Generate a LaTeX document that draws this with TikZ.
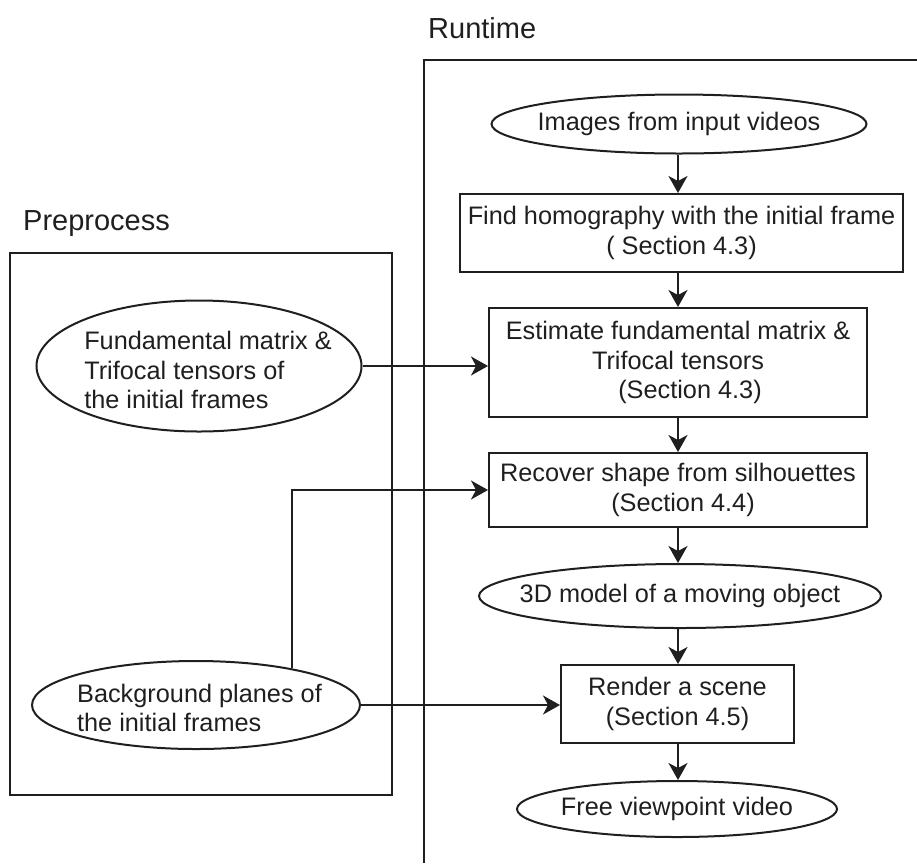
\documentclass[tikz,border=0pt]{standalone}
\usepackage{fontspec}
\setmainfont{Liberation Sans}
\usetikzlibrary{arrows.meta,shapes.geometric,calc}

\tikzset{
  base/.style={draw=black!88, line width=2pt, inner sep=0pt, align=center,
    font=\fontsize{25.3}{29.5}\selectfont, text=black!88},
  procbox/.style={base, rectangle},
  oval/.style={base, ellipse},
  plain/.style={inner sep=0pt, font=\fontsize{25.3}{29.5}\selectfont, text=black!88},
  heading/.style={inner sep=0pt, anchor=base west, font=\fontsize{29}{34}\selectfont, text=black!88},
  frame/.style={draw=black!88, line width=2pt},
  arr/.style={draw=black!88, line width=2pt,
    -{Stealth[length=17pt, width=19pt, inset=5pt]}}
}

\begin{document}
\begin{tikzpicture}[x=1pt, y=-1pt]
  \useasboundingbox (0,0) rectangle (917,863);

  % group frames and their titles
  \draw[frame] (10,253) rectangle (392,795);
  \draw[frame] (424,863) -- (424,60) -- (917,60);
  \node[heading] (pretitle) at (23,230) {Preprocess};
  \node[heading] (runtitle) at (428,38) {Runtime};

  % runtime chain (ellipse outlines sized by hand, labels set on top)
  \node[oval, minimum width=375pt, minimum height=59pt] (imgs) at (679,124) {};
  \node[plain] (imgstext) at (imgs) {Images from input videos};
  \node[procbox, minimum width=443pt, minimum height=78pt] (find) at (681.5,233)
    {Find homography with the initial frame\\( Section 4.3)};
  \node[procbox, minimum width=378pt, minimum height=109pt] (est) at (678,362.5)
    {Estimate fundamental matrix \&\\Trifocal tensors\\\hspace*{24pt}(Section 4.3)};
  \node[procbox, minimum width=378pt, minimum height=74pt] (rec) at (678,490)
    {Recover shape from silhouettes\\\hspace*{10pt}(Section 4.4)};
  \node[oval, minimum width=402pt, minimum height=64pt] (model) at (680,596) {};
  \node[plain] (modeltext) at (model) {3D model of a moving object};
  \node[procbox, minimum width=233pt, minimum height=78pt] (rend) at (677.5,704)
    {Render a scene\\(Section 4.5)};
  \node[oval, minimum width=320pt, minimum height=56pt] (free) at (677,809) {};
  \node[plain] (freetext) at (free) {Free viewpoint video};

  % preprocess inputs
  \node[oval, minimum width=325pt, minimum height=131pt] (fund) at (199,366) {};
  \node[plain, align=left] (fundtext) at (208,370)
    {Fundamental matrix \&\\Trifocal tensors of\\the initial frames};
  \node[oval, minimum width=328pt, minimum height=88pt] (back) at (196,705) {};
  \node[plain, align=left] (backtext) at (199.5,708)
    {Background planes of\\the initial frames};

  % vertical axis of the runtime chain
  \coordinate (axis) at (678,0);

  % flow arrows
  \draw[arr] (axis |- imgs.south) -- (axis |- find.north);
  \draw[arr] (axis |- find.south) -- (axis |- est.north);
  \draw[arr] (axis |- est.south) -- (axis |- rec.north);
  \draw[arr] (axis |- rec.south) -- (axis |- model.north);
  \draw[arr] (axis |- model.south) -- (axis |- rend.north);
  \draw[arr] (axis |- rend.south) -- (axis |- free.north);

  \draw[arr] (fund.east) -- (fund.east -| est.west);
  \draw[arr] (back.21) |- (rec.west);
  \draw[arr] (back.east) -- (back.east -| rend.west);
\end{tikzpicture}
\end{document}
